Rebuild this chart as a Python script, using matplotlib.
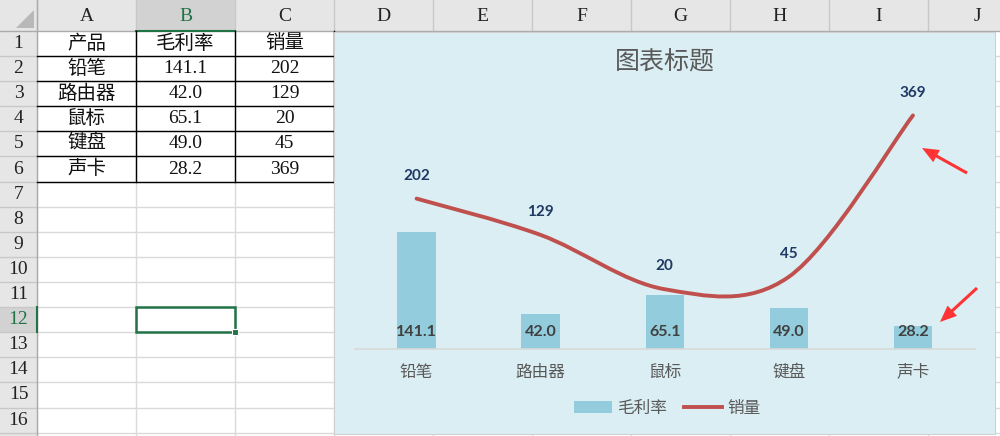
import numpy as np
import matplotlib
matplotlib.use("Agg")
import matplotlib.pyplot as plt
from matplotlib.patches import Rectangle, PathPatch, Polygon
from matplotlib.lines import Line2D
from matplotlib.path import Path

# data (as typed in the sheet)
products = ["铅笔", "路由器", "鼠标", "键盘", "声卡"]
margin = [141.1, 42.0, 65.1, 49.0, 28.2]
sales = [202, 129, 20, 45, 369]
table_header = ["产品", "毛利率", "销量"]
col_letters = list("ABCDEFGHIJ")
n_rows = 16
title = "图表标题"

W, H = 1000, 436
HDR_H, ROW_H = 31, 25.1
RH_W, COL_W = 37, 99

CJK = ["Noto Sans CJK SC", "DejaVu Sans"]
SERIF = ["Liberation Serif", "Noto Sans CJK SC"]
LAB = ["Lato", "DejaVu Sans"]
GREEN = "#217346"


def smooth_path(xs, ys):
    # Excel "smoothed line": cubic Bezier segments with Catmull-Rom tangents
    pts = np.column_stack([xs, ys]).astype(float)
    n = len(pts)
    verts, codes = [pts[0]], [Path.MOVETO]
    for i in range(n - 1):
        p0, p1 = pts[max(i - 1, 0)], pts[i]
        p2, p3 = pts[i + 1], pts[min(i + 2, n - 1)]
        verts += [p1 + (p2 - p0) / 6, p2 - (p3 - p1) / 6, p2]
        codes += [Path.CURVE4] * 3
    return Path(verts, codes)


fig = plt.figure(figsize=(10, 4.36), dpi=100)
fig.patch.set_facecolor("white")

# ---- spreadsheet background, pixel coordinates ----
bg = fig.add_axes([0, 0, 1, 1])
bg.set_xlim(0, W); bg.set_ylim(H, 0); bg.axis("off")

bg.add_patch(Rectangle((0, 0), W, HDR_H, fc="#E6E6E6", ec="none"))
bg.add_patch(Rectangle((0, 0), RH_W, H, fc="#E6E6E6", ec="none"))
bg.add_patch(Rectangle((RH_W + COL_W, 0), COL_W, HDR_H, fc="#D2D2D2", ec="none"))
bg.add_patch(Rectangle((0, HDR_H + 11 * ROW_H), RH_W, ROW_H, fc="#D2D2D2", ec="none"))
bg.add_patch(Polygon([(34, 10), (34, 28), (16, 28)], fc="#B8B8B8", ec="none"))

for k in range(len(col_letters) + 1):
    x = RH_W + k * COL_W
    bg.plot([x, x], [HDR_H, H], color="#DADADA", lw=1)
    bg.plot([x, x], [0, HDR_H], color="#C8C8C8", lw=1)
for r in range(1, n_rows + 1):
    y = HDR_H + r * ROW_H
    bg.plot([RH_W, W], [y, y], color="#DADADA", lw=1)
    bg.plot([0, RH_W], [y, y], color="#C8C8C8", lw=1)
bg.plot([0, W], [HDR_H, HDR_H], color="#ABABAB", lw=1)
bg.plot([RH_W, RH_W], [0, H], color="#ABABAB", lw=1)
bg.plot([RH_W + COL_W, RH_W + 2 * COL_W], [HDR_H, HDR_H], color=GREEN, lw=1.5)
bg.plot([RH_W, RH_W], [HDR_H + 11 * ROW_H, HDR_H + 12 * ROW_H], color=GREEN, lw=1.5)

for k, c in enumerate(col_letters):
    bg.text(RH_W + (k + 0.5) * COL_W, HDR_H / 2 + 1, c, family=SERIF, fontsize=14,
            ha="center", va="center", color=GREEN if c == "B" else "#222222")
for r in range(1, n_rows + 1):
    bg.text(RH_W / 2, HDR_H + (r - 0.5) * ROW_H, str(r), family=SERIF, fontsize=14,
            ha="center", va="center", color=GREEN if r == 12 else "#222222")

# table cells
cells = [table_header] + [[p, f"{m:.1f}", str(s)] for p, m, s in zip(products, margin, sales)]
for r, row in enumerate(cells):
    for k, val in enumerate(row):
        bg.text(RH_W + (k + 0.5) * COL_W, HDR_H + (r + 0.5) * ROW_H, val,
                family=SERIF, fontsize=14, ha="center", va="center", color="#111111")
tbl_bottom = HDR_H + len(cells) * ROW_H
for r in range(1, len(cells) + 1):
    y = HDR_H + r * ROW_H
    bg.plot([RH_W, RH_W + 3 * COL_W], [y, y], color="black", lw=1)
for k in (1, 2, 3):
    x = RH_W + k * COL_W
    bg.plot([x, x], [HDR_H, tbl_bottom], color="black", lw=1)

# selected cell B12
sel_y = HDR_H + 11 * ROW_H
bg.add_patch(Rectangle((RH_W + COL_W, sel_y), COL_W, ROW_H, fc="none", ec=GREEN,
                       lw=1.8, zorder=4))
bg.add_patch(Rectangle((RH_W + 2 * COL_W - 3, sel_y + ROW_H - 3), 6, 6, fc=GREEN,
                       ec="white", lw=0.8, zorder=4))

# chart area
bg.add_patch(Rectangle((334, 32), 661, 402, fc="#DAEEF3", ec="#D0D0D0", lw=0.8, zorder=5))

# red call-out arrows
for tail, tip in [((967, 173), (922, 148)), ((977, 288), (940, 322))]:
    bg.annotate("", xy=tip, xytext=tail, zorder=6,
                arrowprops=dict(arrowstyle="simple,head_length=1.2,head_width=1.0,tail_width=0.22",
                                fc="#FF3333", ec="none", shrinkA=0, shrinkB=0))

# ---- chart ----
x = np.arange(len(products))
ax = fig.add_axes([354.5 / W, (H - 349) / H, 620.5 / W, 249 / H])
ax.set_zorder(2)
ax.patch.set_alpha(0)
ax.bar(x, margin, width=0.31, color="#93CDDD", zorder=2)
ax.set_xlim(-0.5, 4.5)
ax.set_ylim(0, 300)
for i, v in enumerate(margin):
    ax.annotate(f"{v:.1f}", (i, 0), xytext=(0, 12.5), textcoords="offset points",
                ha="center", va="center", fontsize=11.5, fontweight="bold",
                color="#404040", family=LAB, zorder=3)
ax.set_xticks(x, products)
for lab in ax.get_xticklabels():
    lab.set_family(CJK); lab.set_fontsize(12); lab.set_color("#595959")
ax.tick_params(axis="x", length=0, pad=10.5)
ax.set_yticks([])
for s in ("top", "left", "right"):
    ax.spines[s].set_visible(False)
ax.spines["bottom"].set_color("#D9D9D9")
ax.spines["bottom"].set_linewidth(1.2)

ax2 = ax.twinx()
ax2.set_zorder(3)
ax2.patch.set_alpha(0)
ax2.set_ylim(-100, 400)
ax2.add_patch(PathPatch(smooth_path(x, sales), fc="none", ec="#C0504D", lw=2.8,
                        capstyle="round", joinstyle="round"))
for i, v in enumerate(sales):
    ax2.annotate(str(v), (i, v), xytext=(0, 16.5), textcoords="offset points",
                 ha="center", va="center", fontsize=11, fontweight="bold",
                 color="#1F3864", family=LAB)
ax2.set_yticks([])
for s in ax2.spines.values():
    s.set_visible(False)

fig.text(664.5 / W, (H - 63) / H, title, family=CJK, fontsize=18, color="#595959",
         ha="center", va="center", zorder=10)

handles = [Rectangle((0, 0), 1, 1, fc="#93CDDD", ec="none"),
           Line2D([], [], color="#C0504D", lw=2.8)]
leg = fig.legend(handles, ["毛利率", "销量"], loc="center",
                 bbox_to_anchor=(667 / W, (H - 408) / H), ncol=2, frameon=False,
                 prop={"family": CJK, "size": 12}, labelcolor="#595959",
                 handlelength=2.3, handletextpad=0.3, columnspacing=1.0)
leg.set_zorder(10)

fig.savefig("out.png", dpi=100)
